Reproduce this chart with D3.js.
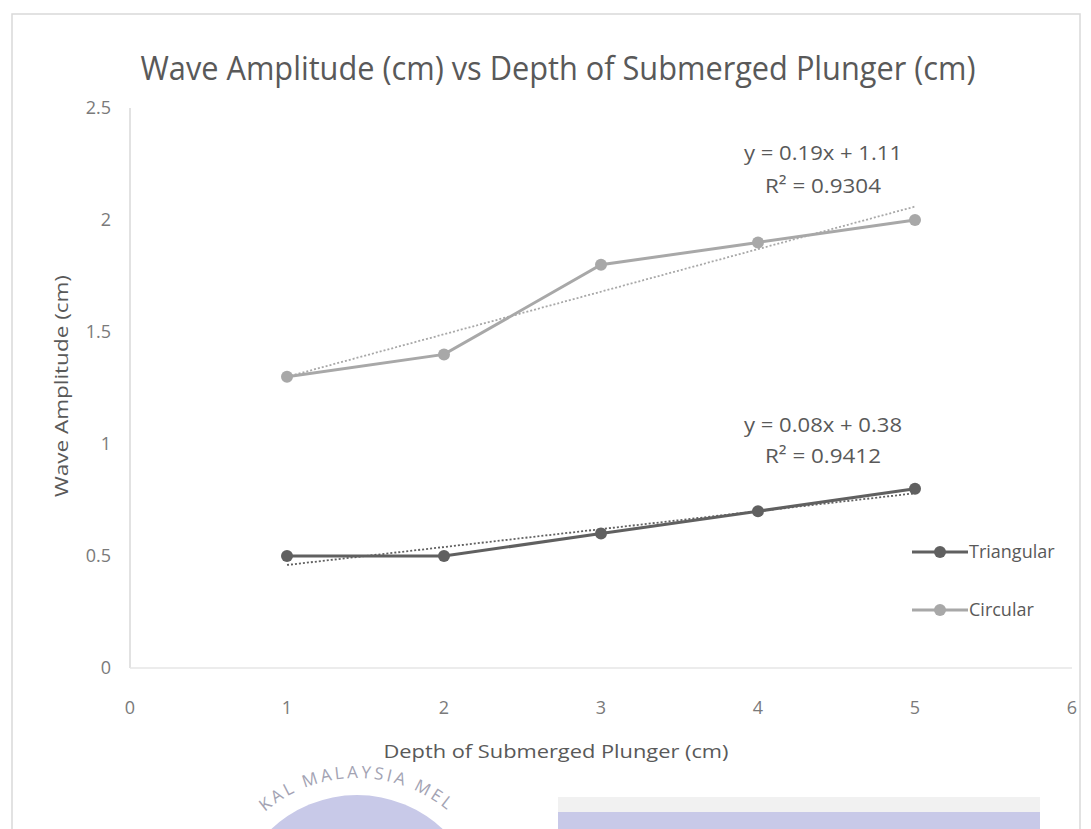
<!DOCTYPE html>
<html>
<head>
<meta charset="utf-8">
<script src="https://cdn.jsdelivr.net/npm/d3@7"></script>
<style>
  body { margin: 0; background: #fff; }
  svg { display: block; font-family: "Open Sans", sans-serif; }
</style>
</head>
<body>
<svg width="1091" height="829"></svg>
<script>
// data
var depth = [1, 2, 3, 4, 5];
var triangular = [0.5, 0.5, 0.6, 0.7, 0.8];
var circular = [1.3, 1.4, 1.8, 1.9, 2.0];
var seriesNames = ["Triangular", "Circular"];
var xTicks = [0, 1, 2, 3, 4, 5, 6];
var yTicks = [0, 0.5, 1, 1.5, 2, 2.5];
var yTickLabels = ["0", "0.5", "1", "1.5", "2", "2.5"];

var svg = d3.select("svg");

var scaleX = d3.scaleLinear()
                 .domain([0, 6])
                 .range([130, 1072]);

var scaleY = d3.scaleLinear()
                .domain([0, 2.5])
                .range([668, 108]);

// chart border
svg.append("rect")
   .attr("x", 12).attr("y", 14)
   .attr("width", 1068).attr("height", 830)
   .attr("fill", "none")
   .attr("stroke", "#d9d9d9")
   .attr("stroke-width", 1.5);

// linear fit, same as the excel trendline
function fit(xs, ys) {
  var mx = d3.mean(xs), my = d3.mean(ys);
  var sxy = d3.sum(xs, function(x, i) { return (x - mx) * (ys[i] - my); });
  var sxx = d3.sum(xs, function(x) { return (x - mx) * (x - mx); });
  var m = sxy / sxx, b = my - m * mx;
  var ssTot = d3.sum(ys, function(y) { return (y - my) * (y - my); });
  var ssRes = d3.sum(ys, function(y, i) { var e = y - (m * xs[i] + b); return e * e; });
  return { m: m, b: b, r2: 1 - ssRes / ssTot };
}

// axes
svg.append("line")
   .attr("x1", scaleX(0)).attr("x2", scaleX(0))
   .attr("y1", scaleY(2.5)).attr("y2", scaleY(0))
   .attr("stroke", "#d9d9d9").attr("stroke-width", 1.5);

svg.append("line")
   .attr("x1", scaleX(0)).attr("x2", scaleX(6))
   .attr("y1", scaleY(0)).attr("y2", scaleY(0))
   .attr("stroke", "#e6e6e6").attr("stroke-width", 1.5);

svg.selectAll(".ytick")
   .data(yTicks)
   .enter()
   .append("text")
   .attr("x", 111)
   .attr("y", function(d) { return scaleY(d); })
   .attr("dy", "0.35em")
   .attr("text-anchor", "end")
   .attr("font-size", 18)
   .attr("fill", "#7a7a7a")
   .text(function(d, i) { return yTickLabels[i]; });

svg.selectAll(".xtick")
   .data(xTicks)
   .enter()
   .append("text")
   .attr("x", function(d) { return scaleX(d); })
   .attr("y", 708)
   .attr("dy", "0.35em")
   .attr("text-anchor", "middle")
   .attr("font-size", 18)
   .attr("fill", "#7a7a7a")
   .text(function(d) { return d; });

// titles
svg.append("text")
   .attr("x", 558)
   .attr("y", 80)
   .attr("text-anchor", "middle")
   .attr("font-size", 32)
   .attr("fill", "#595959")
   .attr("textLength", 835)
   .attr("lengthAdjust", "spacingAndGlyphs")
   .text("Wave Amplitude (cm) vs Depth of Submerged Plunger (cm)");

svg.append("text")
   .attr("x", 556)
   .attr("y", 758)
   .attr("text-anchor", "middle")
   .attr("font-size", 18)
   .attr("fill", "#595959")
   .attr("textLength", 345)
   .attr("lengthAdjust", "spacingAndGlyphs")
   .text("Depth of Submerged Plunger (cm)");

svg.append("text")
   .attr("transform", "rotate(270)")
   .attr("x", -386)
   .attr("y", 68)
   .attr("text-anchor", "middle")
   .attr("font-size", 18)
   .attr("fill", "#595959")
   .attr("textLength", 222)
   .attr("lengthAdjust", "spacingAndGlyphs")
   .text("Wave Amplitude (cm)");

// series
var series = [
  { name: seriesNames[0], values: triangular, color: "#606060", labelY: [425, 456] },
  { name: seriesNames[1], values: circular, color: "#a8a8a8", labelY: [153, 186] }
];

var line = d3.line()
  .x(function(d) { return scaleX(d[0]); })
  .y(function(d) { return scaleY(d[1]); });

series.forEach(function(s) {
  var pts = depth.map(function(x, i) { return [x, s.values[i]]; });
  var f = fit(depth, s.values);
  var x0 = d3.min(depth), x1 = d3.max(depth);

  // dotted trendline
  svg.append("path")
     .datum([[x0, f.m * x0 + f.b], [x1, f.m * x1 + f.b]])
     .attr("d", line)
     .attr("fill", "none")
     .attr("stroke", s.color)
     .attr("stroke-width", 1.8)
     .attr("stroke-dasharray", "2,2");

  svg.append("path")
     .datum(pts)
     .attr("d", line)
     .attr("fill", "none")
     .attr("stroke", s.color)
     .attr("stroke-width", 3);

  svg.selectAll(null)
     .data(pts)
     .enter()
     .append("circle")
     .attr("cx", function(d) { return scaleX(d[0]); })
     .attr("cy", function(d) { return scaleY(d[1]); })
     .attr("r", 6)
     .attr("fill", s.color);

  svg.append("text")
     .attr("x", 823).attr("y", s.labelY[0])
     .attr("dy", "0.35em")
     .attr("text-anchor", "middle")
     .attr("font-size", 20)
     .attr("fill", "#595959")
     .attr("textLength", 158)
     .attr("lengthAdjust", "spacingAndGlyphs")
     .text("y = " + f.m.toFixed(2) + "x + " + f.b.toFixed(2));

  svg.append("text")
     .attr("x", 823).attr("y", s.labelY[1])
     .attr("dy", "0.35em")
     .attr("text-anchor", "middle")
     .attr("font-size", 20)
     .attr("fill", "#595959")
     .attr("textLength", 116)
     .attr("lengthAdjust", "spacingAndGlyphs")
     .text("R² = " + f.r2.toFixed(4));
});

// legend
var legend = svg.selectAll(".legend")
   .data(series)
   .enter()
   .append("g")
   .attr("transform", function(d, i) { return "translate(912," + (552 + i * 58) + ")"; });

legend.append("line")
   .attr("x1", 0).attr("x2", 56)
   .attr("stroke", function(d) { return d.color; })
   .attr("stroke-width", 3);

legend.append("circle")
   .attr("cx", 28).attr("r", 6)
   .attr("fill", function(d) { return d.color; });

legend.append("text")
   .attr("x", 57)
   .attr("dy", "0.35em")
   .attr("font-size", 18)
   .attr("fill", "#595959")
   .text(function(d) { return d.name; });

// watermark at the bottom of the page
var mark = svg.append("g");
mark.append("circle")
   .attr("cx", 357).attr("cy", 920).attr("r", 125)
   .attr("fill", "#c8c9e8");
mark.append("path")
   .attr("id", "arc")
   .attr("d", "M 357 1062 A 142 142 0 1 1 357.1 1062")
   .attr("fill", "none");
mark.append("text")
   .attr("font-size", 17)
   .attr("fill", "#a3a3b3")
   .attr("letter-spacing", 3)
   .attr("text-anchor", "middle")
   .append("textPath")
   .attr("href", "#arc")
   .attr("startOffset", "50%")
   .text("KAL MALAYSIA MEL");

svg.append("rect")
   .attr("x", 558).attr("y", 797)
   .attr("width", 482).attr("height", 15)
   .attr("fill", "#f1f1f1");
svg.append("rect")
   .attr("x", 558).attr("y", 812)
   .attr("width", 482).attr("height", 17)
   .attr("fill", "#c8c9e8");
</script>
</body>
</html>
